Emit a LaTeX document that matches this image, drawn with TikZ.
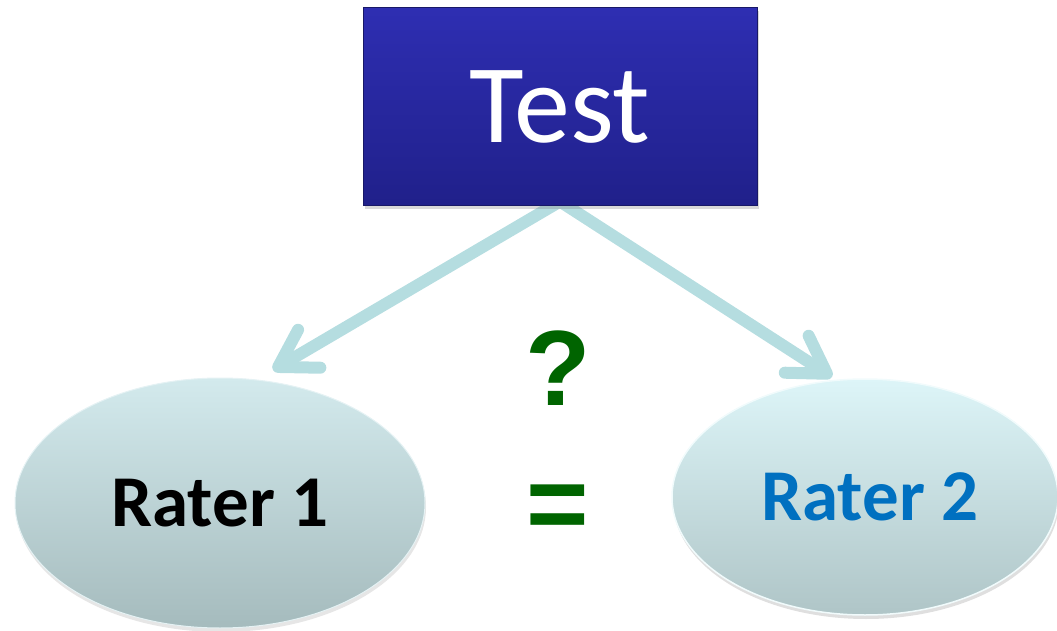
\documentclass[tikz,border=0pt]{standalone}
\usepackage{fontspec}
\setmainfont{Carlito}
\newfontfamily\arialfont{Liberation Sans}
\usetikzlibrary{arrows.meta,shadows,shapes.geometric,backgrounds}
\definecolor{boxtop}{HTML}{2E2EB2}
\definecolor{boxbot}{HTML}{20208A}
\definecolor{arrowc}{HTML}{B5DDE0}
\definecolor{ellAtop}{HTML}{D3EAED}
\definecolor{ellAbot}{HTML}{A5BBBD}
\definecolor{ellBtop}{HTML}{DDF5F8}
\definecolor{ellBbot}{HTML}{AFC5C7}
\definecolor{raterblue}{HTML}{0070C0}
\definecolor{qgreen}{HTML}{006400}
\begin{document}
\begin{tikzpicture}[x=1pt,y=-1pt,
  testbox/.style={rectangle, minimum width=394pt, minimum height=198pt, inner sep=0pt,
    top color=boxtop, bottom color=boxbot, draw=boxbot!75!black, line width=1pt,
    drop shadow={opacity=0.3, shadow xshift=2pt, shadow yshift=-3pt},
    text=white, font=\fontsize{112}{120}\selectfont},
  raterA/.style={ellipse, minimum width=410pt, minimum height=250pt, inner sep=0pt,
    top color=ellAtop, bottom color=ellAbot, draw=ellAtop!60!white, line width=1pt,
    drop shadow={opacity=0.2, shadow xshift=1pt, shadow yshift=-4pt},
    font=\bfseries\fontsize{73}{80}\selectfont},
  raterB/.style={ellipse, minimum width=386pt, minimum height=236pt, inner sep=0pt,
    top color=ellBtop, bottom color=ellBbot, draw=white!60!ellBtop, line width=1.5pt,
    drop shadow={opacity=0.25, shadow xshift=1pt, shadow yshift=-4pt}},
  raterBtext/.style={inner sep=0pt, text=raterblue, font=\bfseries\fontsize{73}{80}\selectfont},
  conn/.style={draw=arrowc, line width=12pt, line cap=round,
    -{Straight Barb[length=36pt,width=44pt,line cap=round,line join=round]}},
  sym/.style={inner sep=0pt, text=qgreen, font=\arialfont\bfseries\fontsize{107}{110}\selectfont}
]
\useasboundingbox (0,0) rectangle (1057,631);
\node[testbox] (test) at (560,107) {Test};
\node[raterA] (r1) at (220,503) {Rater 1};
\node[raterB] (r2) at (865,497) {};
\node[raterBtext] (r2t) at (870,497) {Rater 2};
\coordinate (tipL) at (273,370);
\coordinate (tipR) at (832,377);
\begin{scope}[on background layer]
\draw[conn] ([yshift=5pt]test.south) -- (tipL);
\draw[conn] ([yshift=5pt]test.south) -- (tipR);
\end{scope}
\node[sym, anchor=base] (q) at (558,405) {?};
\node[sym, anchor=base] (eq) at (558,540) {=};
\end{tikzpicture}
\end{document}
